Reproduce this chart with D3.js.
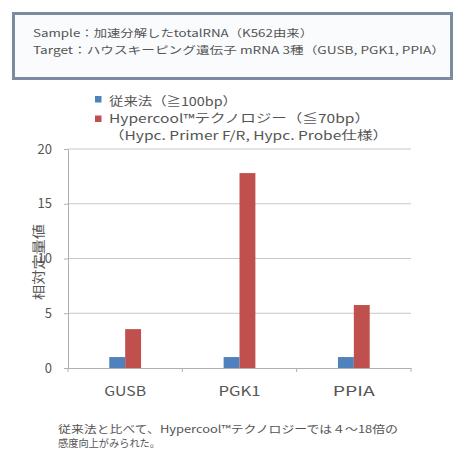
<!DOCTYPE html>
<html>
<head>
<meta charset="utf-8">
<script src="https://d3js.org/d3.v7.min.js"></script>
<style>
  body { margin: 0; background: #fff; }
  svg text { font-family: "Noto Sans CJK JP", "DejaVu Sans", sans-serif; fill: #555; }
</style>
</head>
<body>
<div id="chart"></div>
<script>
// categories and series
var categories = ["GUSB", "PGK1", "PPIA"];
var seriesNames = ["従来法（≧100bp）", "Hypercool™テクノロジー（≦70bp）"];
var conventional = [1.0, 1.0, 1.0];
var hypercool = [3.55, 17.8, 5.75];
var yTicks = [0, 5, 10, 15, 20];
var colors = ["#4f81bd", "#c0504d"];

var W = 456, H = 455;
var svg = d3.select("#chart").append("svg")
  .attr("width", W).attr("height", H);

// info box
svg.append("rect")
  .attr("x", 13.5).attr("y", 13.5).attr("width", 438).attr("height", 65)
  .attr("fill", "#fafbfd").attr("stroke", "#7d8ba0").attr("stroke-width", 3);
svg.append("text").attr("x", 33).attr("y", 37).attr("font-size", 10.5)
  .attr("textLength", 280).attr("lengthAdjust", "spacingAndGlyphs")
  .text("Sample：加速分解したtotalRNA（K562由来）");
svg.append("text").attr("x", 33).attr("y", 54).attr("font-size", 10.5)
  .attr("textLength", 412).attr("lengthAdjust", "spacingAndGlyphs")
  .text("Target：ハウスキーピング遺伝子 mRNA 3種（GUSB, PGK1, PPIA）");

// legend
var legendLen = [128, 261];
var legend = svg.append("g");
legend.selectAll("rect").data(seriesNames).enter().append("rect")
  .attr("x", 95).attr("y", function(d, i) { return 96 + i * 19.5; })
  .attr("width", 6.5).attr("height", 6.5)
  .attr("fill", function(d, i) { return colors[i]; });
legend.selectAll("text").data(seriesNames).enter().append("text")
  .attr("x", 109).attr("y", function(d, i) { return 106 + i * 17; })
  .attr("font-size", 12)
  .attr("textLength", function(d, i) { return legendLen[i]; })
  .attr("lengthAdjust", "spacingAndGlyphs")
  .text(function(d) { return d; });
legend.append("text").attr("x", 109).attr("y", 140).attr("font-size", 12)
  .attr("textLength", 279).attr("lengthAdjust", "spacingAndGlyphs")
  .text("（Hypc. Primer F/R, Hypc. Probe仕様）");

// plot
var margin = {left: 68, top: 149, right: 45, bottom: 87};
var pw = W - margin.left - margin.right,
    ph = H - margin.top - margin.bottom;
var g = svg.append("g").attr("transform", "translate(" + margin.left + "," + margin.top + ")");

var x = d3.scaleBand().domain(categories).range([0, pw]);
var x1 = d3.scaleBand().domain([0, 1]).range([0, x.bandwidth()]).paddingInner(0).paddingOuter(2.6);
var y = d3.scaleLinear().domain([0, 20]).range([ph, 0]);

// gridlines
g.selectAll(".grid").data(yTicks.slice(1)).enter().append("line")
  .attr("x1", 0).attr("x2", pw)
  .attr("y1", function(d) { return y(d); }).attr("y2", function(d) { return y(d); })
  .attr("stroke", "#c8c8c8").attr("stroke-width", 1);

var yAxis = g.append("g").call(d3.axisLeft(y).tickValues(yTicks).tickSize(4).tickPadding(12));
yAxis.select(".domain").attr("stroke", "#b0b0b0");
yAxis.selectAll(".tick line").attr("stroke", "#b0b0b0");
yAxis.selectAll("text").attr("font-size", 13).attr("fill", "#666");

var xAxis = g.append("g").attr("transform", "translate(0," + ph + ")")
  .call(d3.axisBottom(x).tickSize(0).tickPadding(18));
xAxis.select(".domain").attr("stroke", "#b0b0b0");
xAxis.selectAll("text").attr("font-size", 13.5).attr("fill", "#555")
  .attr("textLength", 42).attr("lengthAdjust", "spacingAndGlyphs");
// category boundary ticks
g.selectAll(".btick").data(d3.range(categories.length + 1)).enter().append("line")
  .attr("x1", function(i) { return i * x.step(); }).attr("x2", function(i) { return i * x.step(); })
  .attr("y1", ph).attr("y2", ph + 4).attr("stroke", "#b0b0b0");

var data = categories.map(function(c, i) { return {cat: c, vals: [conventional[i], hypercool[i]]}; });
var groups = g.selectAll(".grp").data(data).enter().append("g")
  .attr("transform", function(d) { return "translate(" + x(d.cat) + ",0)"; });
groups.selectAll("rect").data(function(d) { return d.vals; }).enter().append("rect")
  .attr("x", function(d, i) { return x1(i); })
  .attr("width", x1.bandwidth())
  .attr("y", function(d) { return y(d); })
  .attr("height", function(d) { return ph - y(d); })
  .attr("fill", function(d, i) { return colors[i]; });

// y axis title (vertical)
svg.append("text")
  .attr("transform", "translate(43,262) rotate(-90)")
  .attr("text-anchor", "middle").attr("font-size", 13).attr("fill", "#555")
  .attr("textLength", 76).attr("lengthAdjust", "spacingAndGlyphs")
  .text("相対定量値");

// footnote
svg.append("text").attr("x", 58).attr("y", 433).attr("font-size", 10.5)
  .attr("textLength", 340).attr("lengthAdjust", "spacingAndGlyphs")
  .text("従来法と比べて、Hypercool™テクノロジーでは４～18倍の");
svg.append("text").attr("x", 58).attr("y", 447).attr("font-size", 10.5)
  .attr("textLength", 102).attr("lengthAdjust", "spacingAndGlyphs")
  .text("感度向上がみられた。");
</script>
</body>
</html>
